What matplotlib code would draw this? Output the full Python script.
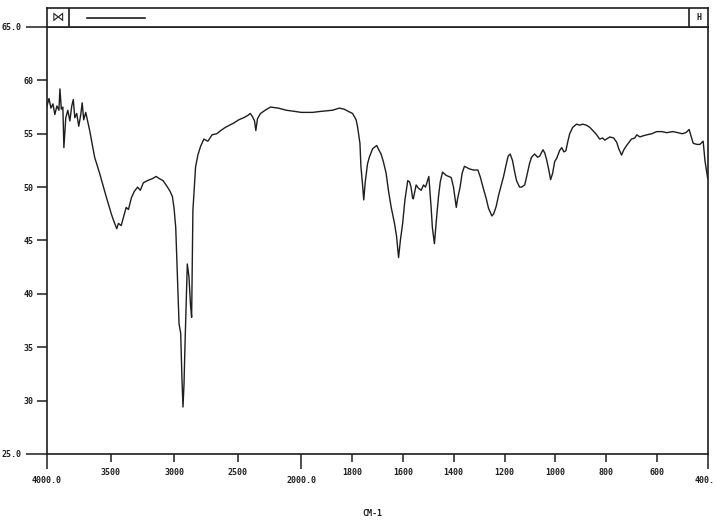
import numpy as np
import matplotlib.pyplot as plt
import matplotlib.transforms as mtransforms
from matplotlib.ticker import FixedLocator

# wavenumber (cm-1) and %T
wavenumber = [
    4000, 3984, 3969, 3953, 3938, 3922, 3906, 3898, 3887, 3875, 3867, 3852,
    3836, 3820, 3805, 3793, 3781, 3766, 3750, 3734, 3723, 3711, 3695, 3680,
    3664, 3625, 3586, 3534, 3494, 3477, 3451, 3438, 3416, 3398, 3377, 3359,
    3336, 3313, 3287, 3266, 3242, 3211, 3170, 3141, 3117, 3086, 3052, 3031,
    3013, 3000, 2987, 2974, 2961, 2948, 2938, 2930, 2922, 2914, 2896, 2883,
    2871, 2862, 2852, 2831, 2813, 2792, 2766, 2734, 2701, 2664, 2633, 2596,
    2563, 2531, 2492, 2453, 2422, 2401, 2383, 2367, 2357, 2344, 2320, 2284,
    2242, 2180, 2117, 2055, 2000,
    1955, 1921, 1877, 1850, 1831, 1811, 1798, 1784, 1778, 1769, 1765, 1759,
    1754, 1748, 1739, 1732, 1719, 1703, 1697, 1686, 1677, 1666, 1657, 1646,
    1633, 1625, 1617, 1610, 1601, 1592, 1581, 1574, 1568, 1562, 1559, 1548,
    1539, 1528, 1519, 1511, 1498, 1489, 1484, 1476, 1468, 1460, 1453, 1444,
    1430, 1410, 1401, 1390, 1385, 1375, 1367, 1358, 1338, 1322, 1305, 1295,
    1285, 1272, 1263, 1250, 1243, 1233, 1224, 1213, 1204, 1193, 1186, 1178,
    1169, 1161, 1153, 1141, 1133, 1121, 1113, 1102, 1094, 1082, 1070, 1062,
    1049, 1042, 1034, 1026, 1019, 1011, 1003, 995, 983, 975, 967, 959,
    952, 944, 932, 917, 904, 893, 878, 865, 853, 841, 826, 814,
    806, 786, 771, 759, 751, 740, 731, 720, 701, 688, 680, 668,
    656, 640, 621, 602, 581, 562, 538, 518, 502, 487, 474, 467,
    458, 443, 432, 419, 412, 401,
]
transmittance = [
    57.6, 58.3, 57.4, 57.8, 56.8, 57.6, 57.2, 59.2, 57.3, 57.5, 53.7, 56.5,
    57.2, 56.2, 57.6, 58.2, 56.5, 56.9, 55.7, 56.8, 57.9, 56.3, 57.0, 56.2,
    55.3, 52.8, 51.3, 49.1, 47.5, 46.9, 46.1, 46.6, 46.4, 47.2, 48.1, 47.9,
    49.0, 49.6, 50.0, 49.7, 50.4, 50.6, 50.8, 51.0, 50.8, 50.6, 50.0, 49.6,
    49.1, 48.0, 46.2, 41.6, 37.2, 36.3, 32.0, 29.4, 31.5, 35.3, 42.8, 41.6,
    39.0, 37.8, 47.8, 51.9, 53.0, 53.8, 54.5, 54.3, 54.9, 55.0, 55.3, 55.6,
    55.8, 56.0, 56.3, 56.5, 56.7, 56.9, 56.6, 56.2, 55.3, 56.4, 56.9, 57.2,
    57.5, 57.4, 57.2, 57.1, 57.0,
    57.0, 57.1, 57.2, 57.4, 57.3, 57.05, 56.9, 56.3, 55.6, 54.1, 51.9, 50.3,
    48.8, 50.5, 52.2, 52.8, 53.6, 53.9, 53.6, 53.1, 52.4, 51.3, 49.7, 48.1,
    46.6, 45.4, 43.4, 45.0, 46.6, 48.8, 50.6, 50.5, 50.0, 49.0, 48.9, 50.2,
    49.9, 49.7, 50.2, 50.0, 51.0, 48.1, 46.2, 44.7, 47.0, 49.1, 50.5, 51.4,
    51.1, 50.9, 50.0, 48.1, 48.9, 50.0, 51.3, 51.95, 51.7, 51.6, 51.6, 50.9,
    50.0, 48.9, 48.0, 47.3, 47.5, 48.2, 49.2, 50.2, 51.0, 52.2, 52.9, 53.1,
    52.5, 51.5, 50.6, 50.0, 50.0, 50.2, 51.0, 52.2, 52.8, 53.1, 52.8, 52.9,
    53.5, 53.2, 52.5, 51.6, 50.7, 51.3, 52.4, 52.7, 53.45, 53.7, 53.3, 53.4,
    54.2, 55.0, 55.6, 55.9, 55.8, 55.9, 55.8, 55.6, 55.3, 55.0, 54.5, 54.6,
    54.4, 54.7, 54.6, 54.2, 53.6, 53.0, 53.5, 53.9, 54.5, 54.6, 54.9, 54.7,
    54.8, 54.9, 55.0, 55.2, 55.2, 55.1, 55.2, 55.1, 55.0, 55.1, 55.4, 54.8,
    54.1, 54.0, 54.0, 54.3, 52.5, 50.8,
]

x_major = [3500, 3000, 2500, 1800, 1600, 1400, 1200, 1000, 800, 600]
x_major_labels = ['3500', '3000', '2500', '1800', '1600', '1400', '1200',
                  '1000', '800', '600']
x_minor = [4000, 2000, 400]
x_minor_labels = ['4000.0', '2000.0', '400.']
y_major = [30, 35, 40, 45, 50, 55, 60]
y_major_labels = ['30', '35', '40', '45', '50', '55', '60']
y_minor = [25, 65]
y_minor_labels = ['25.0', '65.0']


# chart scale is doubled below 2000 cm-1
def fwd(w):
    w = np.asarray(w, dtype=float)
    return np.where(w >= 2000, w, 2 * w - 2000)


def inv(u):
    u = np.asarray(u, dtype=float)
    return np.where(u >= 2000, u, (u + 2000) / 2)


plt.rcParams['font.family'] = 'DejaVu Sans Mono'
ink = '#1e1e1e'

fig = plt.figure(figsize=(7.16, 5.24), dpi=100)
ax = fig.add_axes([0.0656, 0.1336, 0.9232, 0.8149])
ax.set_xscale('function', functions=(fwd, inv))
ax.plot(wavenumber, transmittance, color=ink, lw=1.0)
ax.set_xlim(4000, 400)
ax.set_ylim(25, 65)

ax.xaxis.set_major_locator(FixedLocator(x_major))
ax.set_xticklabels(x_major_labels)
ax.set_xticks(x_minor, x_minor_labels, minor=True)
ax.yaxis.set_major_locator(FixedLocator(y_major))
ax.set_yticklabels(y_major_labels)
ax.set_yticks(y_minor, y_minor_labels, minor=True)

ax.tick_params(axis='x', which='major', direction='out', length=6, width=1.1,
               color=ink, labelsize=6, pad=4)
ax.tick_params(axis='x', which='minor', direction='out', length=11, width=1.1,
               color=ink, labelsize=6, pad=5)
ax.tick_params(axis='y', which='major', direction='out', length=7, width=1.1,
               color=ink, labelsize=6, pad=3)
ax.tick_params(axis='y', which='minor', direction='out', length=15, width=1.1,
               color=ink, labelsize=6, pad=3)
for lab in ax.get_xticklabels(which='both') + ax.get_yticklabels(which='both'):
    lab.set_fontweight('bold')
    lab.set_color(ink)

# last label sits at the right edge of the page
last = ax.get_xticklabels(minor=True)[-1]
last.set_horizontalalignment('right')
last.set_transform(last.get_transform() +
                   mtransforms.ScaledTranslation(7 / 100, 0, fig.dpi_scale_trans))

for s in ax.spines.values():
    s.set_color(ink)
    s.set_linewidth(1.2)

# header strip on top of the plot frame
hdr = fig.add_axes([0.0656, 0.9485, 0.9232, 0.0362])
hdr.set_xlim(0, 1)
hdr.set_ylim(0, 1)
hdr.set_xticks([])
hdr.set_yticks([])
for s in hdr.spines.values():
    s.set_color(ink)
    s.set_linewidth(1.2)
hdr.axvline(0.033, color=ink, lw=1.2)
hdr.axvline(0.972, color=ink, lw=1.2)
hdr.plot([0.0605, 0.148], [0.5, 0.5], color=ink, lw=1.2)
hdr.text(0.0165, 0.5, '\u22c8', ha='center', va='center', fontsize=9,
         family=['DejaVu Sans', 'Noto Sans'], color=ink)
hdr.text(0.986, 0.5, 'H', ha='center', va='center', fontsize=6,
         fontweight='bold', color=ink)

fig.text(372 / 716, 1 - 513 / 524, 'CM-1', ha='center', va='center',
         fontsize=6, fontweight='bold', color=ink)

fig.savefig('out.png', dpi=100)
